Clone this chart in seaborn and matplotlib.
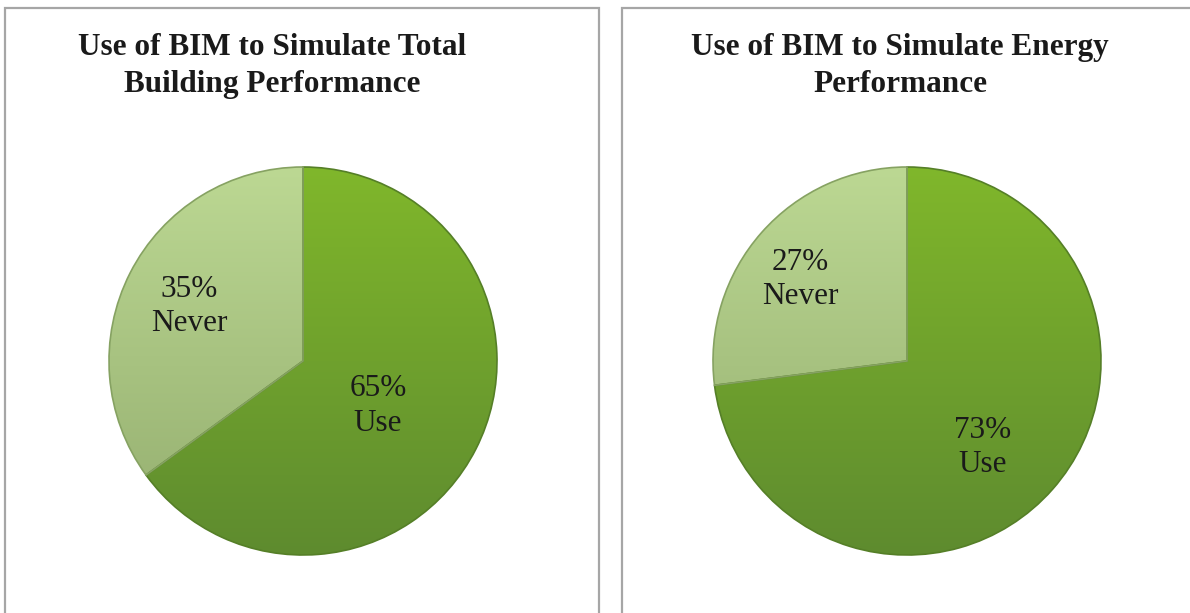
import numpy as np
import matplotlib
matplotlib.use("Agg")
import matplotlib.pyplot as plt
import seaborn as sns
from matplotlib.patches import Rectangle
from matplotlib.colors import LinearSegmentedColormap

# ---- data ----
titles = ["Use of BIM to Simulate Total\nBuilding Performance",
          "Use of BIM to Simulate Energy\nPerformance"]
categories = ["Use", "Never"]
total_building = [65, 35]
energy = [73, 27]
series = [total_building, energy]

# ---- style ----
sns.set_theme(style="white")
plt.rcParams['font.family'] = ['Liberation Serif', 'DejaVu Serif']

W, H = 1190, 613
fig = plt.figure(figsize=(W / 100, H / 100), dpi=100)
fig.patch.set_facecolor("white")

grad = {"Use": ("#5e8b2f", "#80b72b"), "Never": ("#93ad6e", "#bcd893")}
edge = {"Use": "#557f27", "Never": "#86a262"}
label_dist = [{"Use": 0.45, "Never": 0.65}, {"Use": 0.59, "Never": 0.69}]
label_shift = [{"Use": -4, "Never": 1.5}, {"Use": -7.5, "Never": 4}]

# panel frames (figure pixels)
panels = [(5, 8, 599), (622, 8, 1200)]
for (x0, y0, x1) in panels:
    fig.patches.append(Rectangle((x0 / W, -0.05), (x1 - x0) / W, 1 - y0 / H + 0.05,
                                 transform=fig.transFigure, fill=False,
                                 edgecolor="#a6a6a6", linewidth=1.6, zorder=0))

centers = [(303, 361), (907, 361)]
title_cx = [272, 900]
R = 194
ramp = np.linspace(0, 1, 256).reshape(-1, 1)

for i, vals in enumerate(series):
    cx, cy = centers[i]
    ax = fig.add_axes([(cx - R) / W, (H - cy - R) / H, 2 * R / W, 2 * R / H])
    wedges, _ = ax.pie(vals, startangle=90, counterclock=False,
                       colors=[grad[c][0] for c in categories], radius=1.0)
    for w, c in zip(wedges, categories):
        cmap = LinearSegmentedColormap.from_list(c, list(grad[c]))
        im = ax.imshow(ramp, cmap=cmap, extent=(-1, 1, -1, 1), origin="lower",
                       aspect="auto", zorder=2)
        im.set_clip_path(w)
        w.set_facecolor("none")
        w.set_edgecolor(edge[c])
        w.set_linewidth(1.2)
        w.set_zorder(3)
    for w, c, v in zip(wedges, categories, vals):
        mid = np.deg2rad((w.theta1 + w.theta2) / 2 + label_shift[i][c])
        d = label_dist[i][c]
        ax.text(d * np.cos(mid), d * np.sin(mid), f"{v}%\n{c}",
                ha="center", va="center", fontsize=22.5, color="#1a1a1a",
                linespacing=1.25, zorder=4)
    ax.set_xlim(-1, 1)
    ax.set_ylim(-1, 1)
    ax.set_aspect("auto")
    ax.axis("off")

    fig.text(title_cx[i] / W, 1 - 66 / H, titles[i], ha="center", va="center",
             fontsize=22.5, fontweight="bold", color="#1a1a1a", linespacing=1.35)

fig.savefig("out.png", dpi=100, facecolor="white")
